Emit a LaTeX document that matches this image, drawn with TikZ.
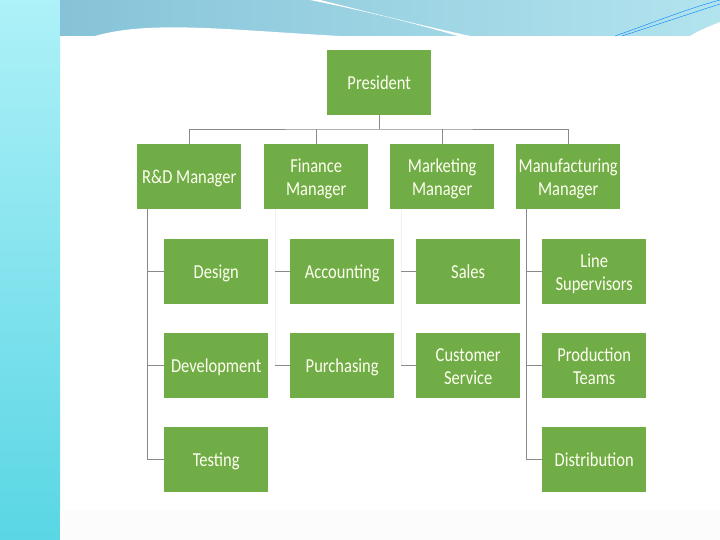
\documentclass[tikz,border=0pt]{standalone}
\usepackage{fontspec}
\setmainfont{Carlito}
\newcommand{\bt}[1]{\raisebox{-2.5pt}[\height][\depth]{\scalebox{1}[1.2]{\begin{tabular}{@{}c@{}}#1\end{tabular}}}}
\begin{document}
\begin{tikzpicture}[x=1pt,y=-1pt,
  box/.style={fill=boxgreen,draw=none,minimum width=104pt,minimum height=65pt,inner sep=1pt,
    text=white!94!yellow,font=\fontsize{16.5}{19.5}\selectfont,align=center,anchor=north west},
  conn/.style={draw=linegray,line width=0.9pt},
  faint/.style={draw=linegray!12,line width=0.6pt}]
\definecolor{boxgreen}{HTML}{70AD47}
\definecolor{linegray}{HTML}{8A8A8A}
\definecolor{bannerA}{HTML}{86C3D8}
\definecolor{bannerB}{HTML}{B2E4EE}
\definecolor{barTop}{HTML}{AEF1F8}
\definecolor{barBot}{HTML}{5AD6E4}
\useasboundingbox (0,0) rectangle (720,540);
\fill[white] (0,0) rectangle (720,540);
% left bar
\shade[top color=barTop,bottom color=barBot] (0,0) rectangle (60,540);
% top banner
\shade[left color=bannerA,right color=bannerB] (60,0) rectangle (720,36);
\fill[white] (95,36) .. controls (150,20) and (230,30) .. (340,36) -- cycle;
\fill[white] (320,0) .. controls (380,15) and (420,25) .. (470,36) -- (458,36) .. controls (410,22) and (360,10) .. (310,0) -- cycle;
\fill[white] (690,36) .. controls (700,30) and (710,26) .. (720,22) -- (720,36) -- cycle;
\draw[blue!50!cyan,line width=0.4pt] (615,36) .. controls (660,20) and (690,8) .. (720,0);
\draw[blue!50!cyan,line width=0.4pt] (622,36) .. controls (665,22) and (695,12) .. (720,4);
% bottom faint strip
\fill[black!1.2] (60,510) rectangle (720,540);
% boxes
\node[box] (pres) at (327,50) {\bt{President}};
\node[box] (rd) at (137,144) {\bt{R\&D Manager}};
\node[box] (fin) at (264,144) {\bt{Finance\\Manager}};
\node[box] (mkt) at (390,144) {\bt{Marketing\\Manager}};
\node[box] (man) at (516,144) {\bt{Manufacturing\\Manager}};
\node[box] (des) at (164,239) {\bt{Design}};
\node[box] (acc) at (290,239) {\bt{Accounting}};
\node[box] (sal) at (416,239) {\bt{Sales}};
\node[box] (lin) at (542,239) {\bt{Line\\Supervisors}};
\node[box] (dev) at (164,333) {\bt{Development}};
\node[box] (pur) at (290,333) {\bt{Purchasing}};
\node[box] (cus) at (416,333) {\bt{Customer\\Service}};
\node[box] (pro) at (542,333) {\bt{Production\\Teams}};
\node[box] (tes) at (164,427) {\bt{Testing}};
\node[box] (dis) at (542,427) {\bt{Distribution}};
% top connectors
\coordinate (bus) at (pres.south |- 0,129);
\draw[conn] (pres.south) -- (bus);
\draw[conn] (rd.north) |- (bus) -| (man.north);
\draw[conn] (fin.north) -- (fin.north |- bus);
\draw[conn] (mkt.north) -- (mkt.north |- bus);
% R&D column
\coordinate (rdx) at (147,209);
\draw[conn] (rdx) |- (tes.west);
\draw[conn] (rdx |- des.west) -- (des.west);
\draw[conn] (rdx |- dev.west) -- (dev.west);
% Finance column
\coordinate (finx) at (275,209);
\draw[faint] (finx) -- (finx |- pur.west);
\draw[conn] (finx |- acc.west) -- (acc.west);
\draw[conn] (finx |- pur.west) -- (pur.west);
% Marketing column
\coordinate (mktx) at (401,209);
\draw[faint] (mktx) -- (mktx |- cus.west);
\draw[conn] (mktx |- sal.west) -- (sal.west);
\draw[conn] (mktx |- cus.west) -- (cus.west);
% Manufacturing column
\coordinate (manx) at (526,209);
\draw[conn] (manx) |- (dis.west);
\draw[conn] (manx |- lin.west) -- (lin.west);
\draw[conn] (manx |- pro.west) -- (pro.west);
\end{tikzpicture}
\end{document}
